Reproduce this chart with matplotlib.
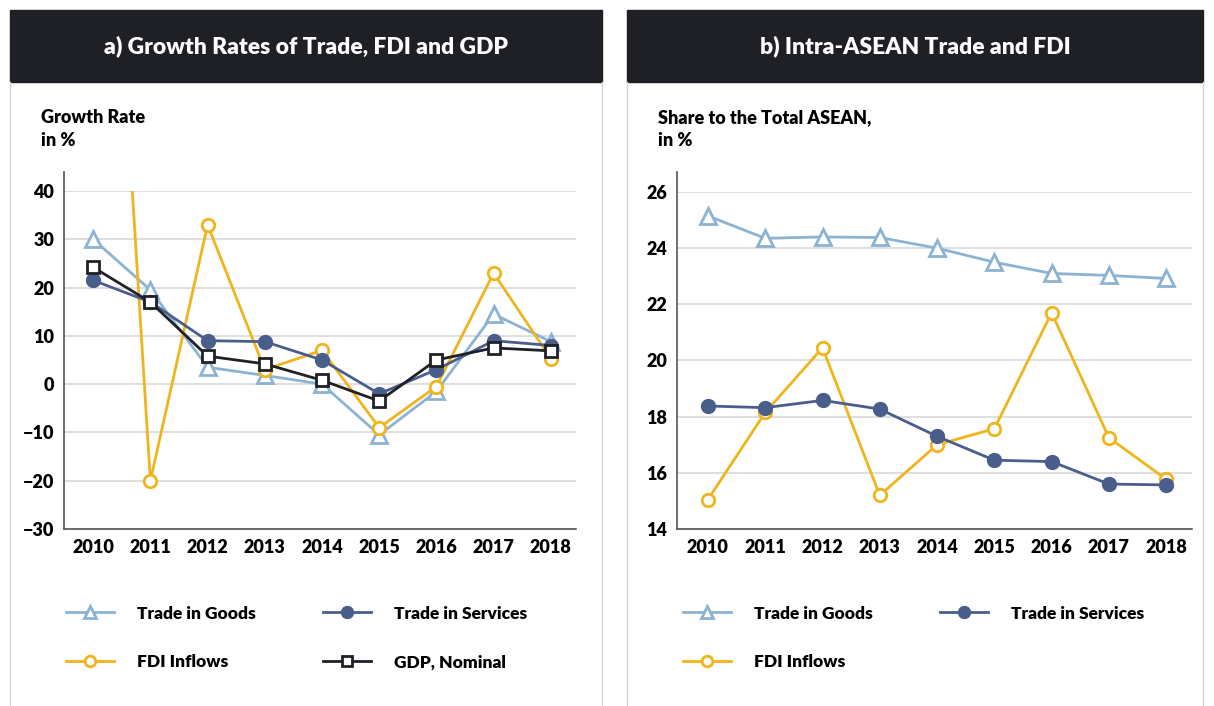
import matplotlib
matplotlib.use('Agg')
import matplotlib.pyplot as plt
from matplotlib.patches import Rectangle
from matplotlib.lines import Line2D

plt.rcParams['font.family'] = ['Lato', 'DejaVu Sans']
plt.rcParams['font.weight'] = 'heavy'

years = [2010, 2011, 2012, 2013, 2014, 2015, 2016, 2017, 2018]

# panel a) growth rates, %
growth_goods = [30, 19.5, 3.5, 1.8, 0, -10.5, -1.5, 14.5, 8.8]
growth_services = [21.5, 17, 9, 8.8, 5, -2, 3, 9, 8]
growth_fdi = [170, -20, 33, 3, 7, -9, -0.5, 23, 5.3]
growth_gdp = [24.2, 17, 5.8, 4.2, 0.8, -3.5, 5, 7.5, 6.9]

# panel b) intra-ASEAN share, %
share_goods = [25.15, 24.35, 24.4, 24.38, 24.0, 23.5, 23.1, 23.03, 22.92]
share_services = [18.38, 18.32, 18.58, 18.27, 17.3, 16.45, 16.4, 15.6, 15.57]
share_fdi = [15.05, 18.15, 20.45, 15.2, 17.0, 17.57, 21.7, 17.25, 15.77]

c_goods = '#8db3d3'
c_serv = '#4a5e8c'
c_fdi = '#f0b41c'
c_gdp = '#1f2127'
dark = '#1f2026'

W, H = 1214, 706
fig = plt.figure(figsize=(W / 100, H / 100), dpi=100)


def fx(px):
    return px / W


def fy(py):
    return 1 - py / H


# headers + panel borders
for x0, x1, title in [(10, 602, 'a) Growth Rates of Trade, FDI and GDP'),
                      (627, 1203, 'b) Intra-ASEAN Trade and FDI')]:
    fig.add_artist(Rectangle((fx(x0), fy(82)), fx(x1 - x0), 72 / H,
                             transform=fig.transFigure, color=dark, zorder=0))
    fig.text(fx((x0 + x1) / 2), fy(46), title, color='white', fontsize=16.5,
             ha='center', va='center', fontweight='heavy')
    for xx in (x0, x1):
        fig.add_artist(Line2D([fx(xx), fx(xx)], [fy(82), 0], transform=fig.transFigure,
                              color='#d6d6d6', lw=1))

line_kw = dict(lw=2, markeredgewidth=2)
leg_kw = dict(loc='center left', ncol=2, frameon=False, fontsize=12.5, markerscale=0.85,
              handlelength=2.8, handletextpad=1.3, columnspacing=3.85, labelspacing=1.9)


def style_ax(ax, ticks, top):
    ax.set_yticks(ticks)
    ax.set_xticks(years)
    ax.grid(axis='y', color='#d9d9d9', lw=1.2)
    ax.set_axisbelow(True)
    for s in ('top', 'right'):
        ax.spines[s].set_visible(False)
    for s in ('left', 'bottom'):
        ax.spines[s].set_color('#555555')
        ax.spines[s].set_linewidth(1.2)
    lo = ticks[0]
    ax.spines['left'].set_bounds(lo, top)
    ax.tick_params(length=0, labelsize=13, pad=7)
    for lab in ax.get_xticklabels() + ax.get_yticklabels():
        lab.set_fontweight('heavy')


# ---- panel a
ax1 = fig.add_axes([fx(64), fy(529), fx(576 - 64), (529 - 191) / H])
ax1.plot(years, growth_goods, color=c_goods, marker='^', ms=11, mfc='white',
         mec=c_goods, label='Trade in Goods', **line_kw)
ax1.plot(years, growth_fdi, color=c_fdi, marker='o', ms=9, mfc='white',
         mec=c_fdi, label='FDI Inflows', **line_kw)
ax1.plot(years, growth_services, color=c_serv, marker='o', ms=9, mfc=c_serv,
         mec=c_serv, label='Trade in Services', **line_kw)
ax1.plot(years, growth_gdp, color=c_gdp, marker='s', ms=8, mfc='white',
         mec=c_gdp, label='GDP, Nominal', **line_kw)
ax1.set_xlim(2009.49, 2018.44)
ax1.set_ylim(-30, 40)
style_ax(ax1, list(range(-30, 41, 10)), 44)
fig.text(fx(41), fy(129), 'Growth Rate\nin %', fontsize=13, fontweight='heavy',
         va='center', ha='left', linespacing=1.45)
ax1.legend(bbox_to_anchor=(fx(50), fy(638)), bbox_transform=fig.transFigure, **leg_kw)

# ---- panel b
ax2 = fig.add_axes([fx(677), fy(529), fx(1192 - 677), (529 - 192) / H])
ax2.plot(years, share_goods, color=c_goods, marker='^', ms=11, mfc='white',
         mec=c_goods, label='Trade in Goods', **line_kw)
ax2.plot(years, share_fdi, color=c_fdi, marker='o', ms=9, mfc='white',
         mec=c_fdi, label='FDI Inflows', **line_kw)
ax2.plot(years, share_services, color=c_serv, marker='o', ms=9, mfc=c_serv,
         mec=c_serv, label='Trade in Services', **line_kw)
ax2.set_xlim(2009.46, 2018.45)
ax2.set_ylim(14, 26)
style_ax(ax2, list(range(14, 27, 2)), 26.7)
fig.text(fx(658), fy(129), 'Share to the Total ASEAN,\nin %', fontsize=13,
         fontweight='heavy', va='center', ha='left', linespacing=1.45)
ax2.legend(bbox_to_anchor=(fx(667), fy(638)), bbox_transform=fig.transFigure, **leg_kw)

fig.savefig('out.png', dpi=100)
